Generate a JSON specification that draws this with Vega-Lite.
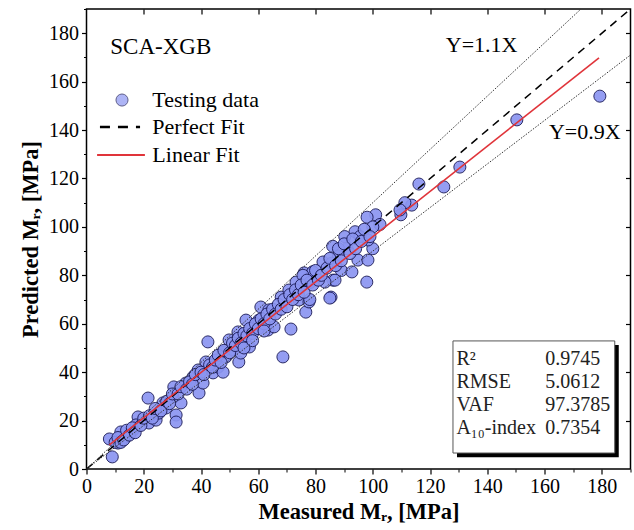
{
  "$schema": "https://vega.github.io/schema/vega-lite/v6.json",
  "width": 544,
  "height": 460,
  "autosize": "none",
  "padding": {"left": 86.5, "top": 9, "right": 3.5, "bottom": 61},
  "config": {
    "view": {"stroke": "black", "strokeWidth": 1.5},
    "font": "Liberation Serif",
    "axis": {"grid": false, "domain": false, "tickColor": "black", "labelColor": "black", "titleColor": "black", "labelFont": "Liberation Serif", "titleFont": "Liberation Serif"}
  },
  "datasets": {
    "points": [
      {"x": 9, "y": 5}, {"x": 8, "y": 12.4}, {"x": 11, "y": 10.7}, {"x": 12, "y": 15.3}, {"x": 13.8, "y": 13.2},
      {"x": 16.3, "y": 16.1}, {"x": 18, "y": 21.5}, {"x": 17.3, "y": 18.2}, {"x": 21.5, "y": 29.3}, {"x": 21.8, "y": 19},
      {"x": 24.3, "y": 20.2}, {"x": 25.3, "y": 23.1}, {"x": 26.7, "y": 27.3}, {"x": 27.8, "y": 25.2}, {"x": 30.5, "y": 33.9},
      {"x": 31.3, "y": 22.3}, {"x": 31.3, "y": 19.4}, {"x": 33, "y": 27.3}, {"x": 30.2, "y": 29.7}, {"x": 34.7, "y": 35.5},
      {"x": 37.2, "y": 38}, {"x": 39.3, "y": 31.4}, {"x": 39, "y": 40.9}, {"x": 40.7, "y": 35.5}, {"x": 42.4, "y": 52.5},
      {"x": 41.7, "y": 44.2}, {"x": 44.2, "y": 39.7}, {"x": 46, "y": 42.1}, {"x": 47.7, "y": 40}, {"x": 47.7, "y": 48.3},
      {"x": 48.7, "y": 46.3}, {"x": 51.2, "y": 49.2}, {"x": 49.8, "y": 53.3}, {"x": 53.2, "y": 44.2}, {"x": 53.9, "y": 47.9},
      {"x": 52.9, "y": 56.6}, {"x": 55.7, "y": 61.5}, {"x": 56.9, "y": 50.4}, {"x": 58.1, "y": 58.2}, {"x": 60.2, "y": 61.5},
      {"x": 60.9, "y": 66.9}, {"x": 63.7, "y": 65.7}, {"x": 63.4, "y": 57.4}, {"x": 65.5, "y": 58.7}, {"x": 68, "y": 71},
      {"x": 68.6, "y": 46.3}, {"x": 71.4, "y": 57.8}, {"x": 70.7, "y": 73.9}, {"x": 73.2, "y": 77.2}, {"x": 74.2, "y": 69.8},
      {"x": 76.6, "y": 64.8}, {"x": 76, "y": 81}, {"x": 77.7, "y": 69}, {"x": 79.1, "y": 81.4}, {"x": 82.6, "y": 85.5},
      {"x": 85.4, "y": 71}, {"x": 86.1, "y": 78},
      {"x": 179.3, "y": 154}, {"x": 150.3, "y": 144.2}, {"x": 130.4, "y": 124.7}, {"x": 124.8, "y": 116.5}, {"x": 116.1, "y": 117.7},
      {"x": 113.6, "y": 109}, {"x": 111.2, "y": 110}, {"x": 109.8, "y": 105}, {"x": 109.5, "y": 107}, {"x": 101, "y": 105},
      {"x": 98, "y": 104}, {"x": 102.5, "y": 101}, {"x": 100, "y": 100}, {"x": 100, "y": 91}, {"x": 98.3, "y": 94.6},
      {"x": 93.8, "y": 98}, {"x": 90.2, "y": 96}, {"x": 95.5, "y": 96}, {"x": 86, "y": 92}, {"x": 91, "y": 91},
      {"x": 88, "y": 88}, {"x": 85.6, "y": 85}, {"x": 89, "y": 82}, {"x": 92.7, "y": 81.4}, {"x": 94.8, "y": 86.3},
      {"x": 98.3, "y": 86.3}, {"x": 97.9, "y": 77.2}, {"x": 86.8, "y": 78}, {"x": 85, "y": 70.6}, {"x": 83.3, "y": 77.2},
      {"x": 79, "y": 81.4}, {"x": 75.6, "y": 80}, {"x": 78, "y": 77}, {"x": 78, "y": 70},
      {"x": 10, "y": 11}, {"x": 11, "y": 13}, {"x": 12, "y": 11}, {"x": 13, "y": 12}, {"x": 14, "y": 16},
      {"x": 15, "y": 14}, {"x": 16, "y": 17}, {"x": 17, "y": 15}, {"x": 19, "y": 18}, {"x": 20, "y": 21},
      {"x": 22, "y": 22}, {"x": 23, "y": 21}, {"x": 24, "y": 25}, {"x": 26, "y": 24}, {"x": 28, "y": 28},
      {"x": 29, "y": 27}, {"x": 30, "y": 31}, {"x": 32, "y": 31}, {"x": 33, "y": 34}, {"x": 35, "y": 33},
      {"x": 36, "y": 36}, {"x": 37, "y": 35}, {"x": 38, "y": 39}, {"x": 40, "y": 40}, {"x": 41, "y": 39},
      {"x": 43, "y": 43}, {"x": 44, "y": 42}, {"x": 45, "y": 45}, {"x": 46, "y": 47}, {"x": 48, "y": 49},
      {"x": 50, "y": 48}, {"x": 51, "y": 52}, {"x": 52, "y": 51}, {"x": 53, "y": 54}, {"x": 54, "y": 52},
      {"x": 55, "y": 56}, {"x": 56, "y": 55}, {"x": 57, "y": 58}, {"x": 58, "y": 56}, {"x": 59, "y": 60},
      {"x": 60, "y": 58}, {"x": 61, "y": 62}, {"x": 62, "y": 60}, {"x": 63, "y": 64}, {"x": 64, "y": 62},
      {"x": 65, "y": 66}, {"x": 66, "y": 64}, {"x": 67, "y": 68}, {"x": 68, "y": 66}, {"x": 69, "y": 70},
      {"x": 70, "y": 67}, {"x": 71, "y": 72}, {"x": 72, "y": 70}, {"x": 73, "y": 74}, {"x": 74, "y": 72},
      {"x": 75, "y": 76}, {"x": 76, "y": 73}, {"x": 77, "y": 78}, {"x": 79, "y": 76}, {"x": 80, "y": 82},
      {"x": 81, "y": 78}, {"x": 82, "y": 80}, {"x": 84, "y": 83}, {"x": 85, "y": 87}, {"x": 87, "y": 84},
      {"x": 88, "y": 91}, {"x": 89, "y": 86}, {"x": 90, "y": 93}, {"x": 92, "y": 89}, {"x": 93, "y": 95},
      {"x": 94, "y": 91}, {"x": 96, "y": 94}, {"x": 97, "y": 99}, {"x": 99, "y": 96}, {"x": 55, "y": 50},
      {"x": 62, "y": 57}, {"x": 47, "y": 44}, {"x": 58, "y": 53}
    ],
    "perfect": [{"x": 0, "y": 0}, {"x": 190, "y": 190}],
    "upper": [{"x": 0, "y": 0}, {"x": 172.7, "y": 190}],
    "lower": [{"x": 0, "y": 0}, {"x": 190, "y": 171}],
    "fit": [{"x": 8, "y": 10}, {"x": 179, "y": 169.8}],
    "legendPoint": [{"x": 12.4, "y": 152.4}],
    "legendDash": [{"x": 4.7, "y": 141.3}, {"x": 18.7, "y": 141.3}],
    "legendFit": [{"x": 3.7, "y": 129.7}, {"x": 20.4, "y": 129.7}],
    "legendText": [
      {"x": 23, "y": 152.4, "text": "Testing data"},
      {"x": 23, "y": 141.3, "text": "Perfect Fit"},
      {"x": 23, "y": 129.7, "text": "Linear Fit"}
    ],
    "title": [{"x": 8.3, "y": 174.5, "text": "SCA-XGB"}],
    "annot": [
      {"x": 125.5, "y": 175, "text": "Y=1.1X"},
      {"x": 161.5, "y": 139.2, "text": "Y=0.9X"}
    ],
    "shadow": [{"x": 129.4, "x2": 185.9, "y": 4.9, "y2": 51.2}],
    "box": [{"x": 128, "x2": 184.5, "y": 6.6, "y2": 52.9}],
    "stats": [
      {"x": 129.2, "y": 45.4, "text": "R²"},
      {"x": 129.2, "y": 35.9, "text": "RMSE"},
      {"x": 129.2, "y": 26.4, "text": "VAF"},
      {"x": 129.2, "y": 16.9, "text": "A₁₀-index"},
      {"x": 160.2, "y": 45.4, "text": "0.9745"},
      {"x": 160.2, "y": 35.9, "text": "5.0612"},
      {"x": 160.2, "y": 26.4, "text": "97.3785"},
      {"x": 160.2, "y": 16.9, "text": "0.7354"}
    ]
  },
  "encoding": {
    "x": {"field": "x", "type": "quantitative", "scale": {"domain": [0, 190], "nice": false, "zero": false}, "axis": null},
    "y": {"field": "y", "type": "quantitative", "scale": {"domain": [0, 190], "nice": false, "zero": false}, "axis": null}
  },
  "layer": [
    {
      "data": {"name": "points"},
      "mark": {"type": "point", "shape": "circle", "filled": true, "size": 145, "fill": "#8b95f1", "stroke": "#1c1c5a", "strokeWidth": 1, "opacity": 0.92},
      "encoding": {
        "x": {"field": "x", "type": "quantitative", "scale": {"domain": [0, 190], "nice": false, "zero": false},
          "axis": {"orient": "bottom", "values": [0, 20, 40, 60, 80, 100, 120, 140, 160, 180], "tickSize": 5, "tickWidth": 1.2, "labelFontSize": 20, "labelPadding": 2, "labelFlush": false, "labelOverlap": false, "title": "Measured Mᵣ, [MPa]", "titleFontSize": 22.5, "titleFontWeight": "bold", "titlePadding": 4}},
        "y": {"field": "y", "type": "quantitative", "scale": {"domain": [0, 190], "nice": false, "zero": false},
          "axis": {"orient": "left", "values": [0, 20, 40, 60, 80, 100, 120, 140, 160, 180], "tickSize": 5, "tickWidth": 1.2, "labelFontSize": 20, "labelPadding": 3, "labelFlush": false, "labelOverlap": false, "title": "Predicted Mᵣ, [MPa]", "titleFontSize": 22.5, "titleFontWeight": "bold", "titlePadding": 6}}
      }
    },
    {
      "data": {"name": "perfect"},
      "mark": {"type": "line", "stroke": "black", "strokeWidth": 1.5, "strokeDash": [8, 6]},
      "encoding": {
        "x": {"field": "x", "type": "quantitative", "scale": {"domain": [0, 190], "nice": false, "zero": false},
          "axis": {"orient": "bottom", "values": [10, 30, 50, 70, 90, 110, 130, 150, 170, 190], "tickSize": 3, "tickWidth": 1, "labels": false, "title": null}},
        "y": {"field": "y", "type": "quantitative", "scale": {"domain": [0, 190], "nice": false, "zero": false},
          "axis": {"orient": "left", "values": [10, 30, 50, 70, 90, 110, 130, 150, 170, 190], "tickSize": 3, "tickWidth": 1, "labels": false, "title": null}}
      }
    },
    {
      "data": {"name": "upper"},
      "mark": {"type": "line", "stroke": "#333333", "strokeWidth": 1, "strokeDash": [1.5, 1.5]},
      "encoding": {
        "x": {"field": "x", "type": "quantitative", "scale": {"domain": [0, 190], "nice": false, "zero": false},
          "axis": {"orient": "top", "values": [20, 40, 60, 80, 100, 120, 140, 160, 180], "tickSize": -5, "tickWidth": 1.2, "labels": false, "title": null}},
        "y": {"field": "y", "type": "quantitative", "scale": {"domain": [0, 190], "nice": false, "zero": false},
          "axis": {"orient": "right", "values": [20, 40, 60, 80, 100, 120, 140, 160, 180], "tickSize": -5, "tickWidth": 1.2, "labels": false, "title": null}}
      }
    },
    {
      "data": {"name": "lower"},
      "mark": {"type": "line", "stroke": "#333333", "strokeWidth": 1, "strokeDash": [1.5, 1.5]},
      "encoding": {}
    },
    {
      "data": {"name": "fit"},
      "mark": {"type": "line", "stroke": "#e0343a", "strokeWidth": 1.6},
      "encoding": {}
    },
    {
      "data": {"name": "legendPoint"},
      "mark": {"type": "point", "shape": "circle", "filled": true, "size": 145, "fill": "#8b95f1", "stroke": "#1c1c5a", "strokeWidth": 1},
      "encoding": {}
    },
    {
      "data": {"name": "legendDash"},
      "mark": {"type": "line", "stroke": "black", "strokeWidth": 2.5, "strokeDash": [10, 8]},
      "encoding": {}
    },
    {
      "data": {"name": "legendFit"},
      "mark": {"type": "line", "stroke": "#e0343a", "strokeWidth": 2.2},
      "encoding": {}
    },
    {
      "data": {"name": "legendText"},
      "mark": {"type": "text", "align": "left", "baseline": "middle", "fontSize": 22, "font": "Liberation Serif", "color": "black"},
      "encoding": {"text": {"field": "text"}}
    },
    {
      "data": {"name": "title"},
      "mark": {"type": "text", "align": "left", "baseline": "middle", "fontSize": 23, "font": "Liberation Serif", "color": "black"},
      "encoding": {"text": {"field": "text"}}
    },
    {
      "data": {"name": "annot"},
      "mark": {"type": "text", "align": "left", "baseline": "middle", "fontSize": 22, "font": "Liberation Serif", "color": "black"},
      "encoding": {"text": {"field": "text"}}
    },
    {
      "data": {"name": "shadow"},
      "mark": {"type": "rect", "fill": "black"},
      "encoding": {"x2": {"field": "x2"}, "y2": {"field": "y2"}}
    },
    {
      "data": {"name": "box"},
      "mark": {"type": "rect", "fill": "white", "stroke": "#555555", "strokeWidth": 1},
      "encoding": {"x2": {"field": "x2"}, "y2": {"field": "y2"}}
    },
    {
      "data": {"name": "stats"},
      "mark": {"type": "text", "align": "left", "baseline": "middle", "fontSize": 20, "font": "Liberation Serif", "color": "#222222"},
      "encoding": {"text": {"field": "text"}}
    }
  ],
  "resolve": {"scale": {"x": "independent", "y": "independent"}}
}
